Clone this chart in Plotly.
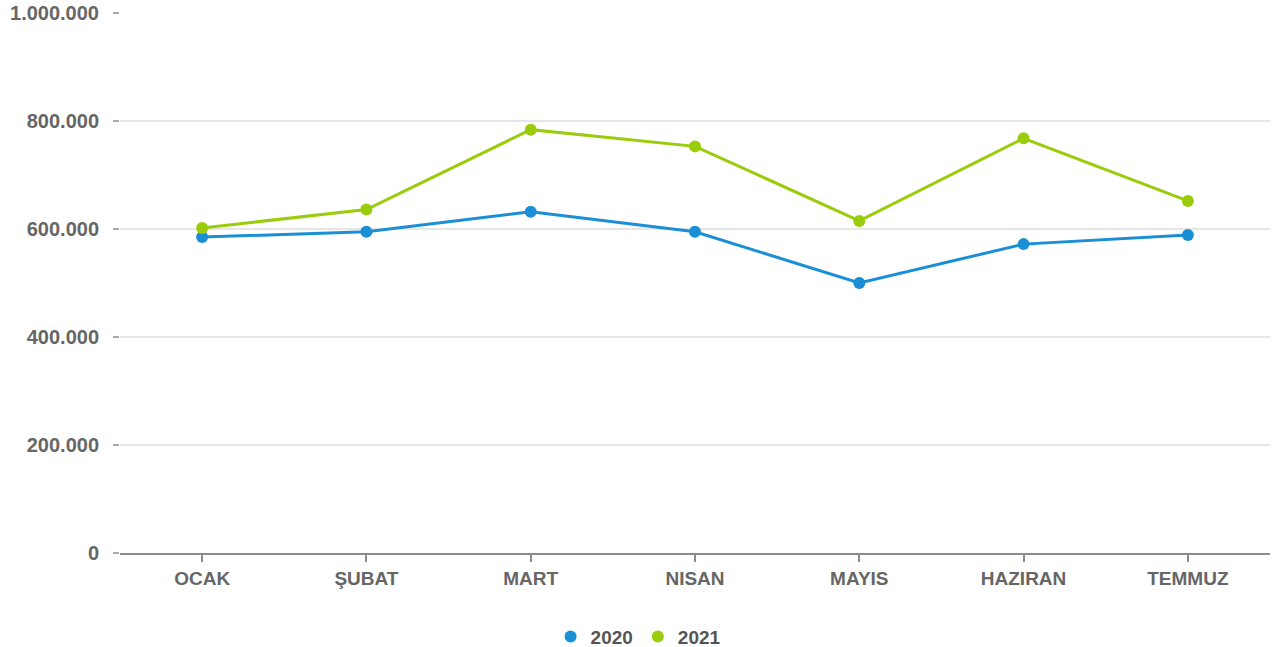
import plotly.graph_objects as go

months = ["OCAK", "ŞUBAT", "MART", "NISAN", "MAYIS", "HAZIRAN", "TEMMUZ"]
values_2020 = [585000, 595000, 632000, 595000, 500000, 572000, 589000]
values_2021 = [602000, 636000, 784000, 753000, 615000, 768000, 652000]
y_ticks = [0, 200000, 400000, 600000, 800000, 1000000]
series = [("2020", values_2020, "#1a8fd6"), ("2021", values_2021, "#99cc0a")]

font_family = "Liberation Sans, Arial, sans-serif"

fig = go.Figure()
for name, vals, color in series:
    fig.add_trace(go.Scatter(x=months, y=vals, name=name, mode="lines+markers",
                             line=dict(color=color, width=3), marker=dict(size=12, color=color),
                             showlegend=False))
for name, vals, color in series:
    fig.add_trace(go.Scatter(x=[None], y=[None], name=name, mode="markers",
                             marker=dict(size=16, color=color), showlegend=True))

fig.update_layout(
    width=1277, height=663,
    margin=dict(l=120, r=7, t=13, b=98),
    plot_bgcolor="white", paper_bgcolor="white",
    separators=",.",
    font=dict(family=font_family, size=19, color="#666666"),
    showlegend=True,
    legend=dict(orientation="h", x=0.4505, xanchor="center", y=-0.155, yanchor="middle",
                font=dict(family=font_family, size=19, color="#555555", weight="bold"),
                itemsizing="constant", itemwidth=30),
    hovermode=False,
)
fig.update_xaxes(
    showgrid=False, showline=True, linecolor="#8c8c8c", linewidth=2,
    ticks="outside", ticklen=7, tickcolor="#8c8c8c", tickwidth=2,
    tickfont=dict(family=font_family, size=19, color="#666666", weight="bold"),
    range=[-0.5, 6.5], fixedrange=True, automargin=False,
)
fig.update_yaxes(
    range=[0, 1000000], tickvals=y_ticks, tickformat=",d",
    showgrid=True, gridcolor="#e6e6e6", gridwidth=1.5,
    zeroline=False, showline=False,
    ticks="outside", ticklen=6, tickcolor="#aaaaaa", tickwidth=2,
    ticklabelstandoff=10,
    tickfont=dict(family=font_family, size=20, color="#666666", weight="bold"),
    fixedrange=True, automargin=False,
)

# Remove the default page margin synchronously, right after the plot call.
body_reset = ("}); document.body.style.margin='0'; "
              "document.documentElement.style.overflow='hidden'; (function(){")

fig.write_html("out.html", config={"displayModeBar": False}, post_script=body_reset)
